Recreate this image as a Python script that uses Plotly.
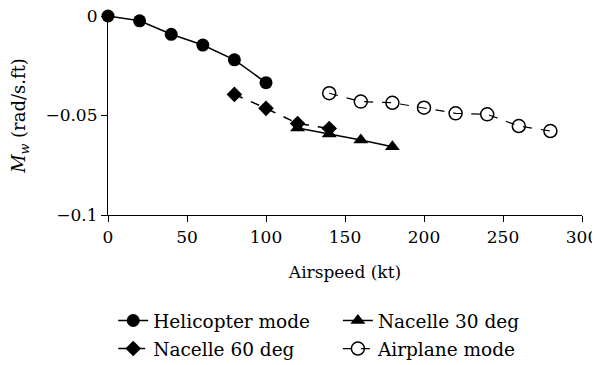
import plotly.graph_objects as go

heli_x = [0, 20, 40, 60, 80, 100]
heli_y = [0.0, -0.0024, -0.0092, -0.0146, -0.022, -0.0335]

n30_x = [120, 140, 160, 180]
n30_y = [-0.0563, -0.0593, -0.0623, -0.0657]

n60_x = [80, 100, 120, 140]
n60_y = [-0.0394, -0.0464, -0.054, -0.0565]

air_x = [140, 160, 180, 200, 220, 240, 260, 280]
air_y = [-0.0388, -0.043, -0.0436, -0.0461, -0.0489, -0.0494, -0.0553, -0.0578]

x_ticks = [0, 50, 100, 150, 200, 250, 300]
y_ticks = [0, -0.05, -0.1]
y_tick_text = ["0", "\u22120.05", "\u22120.1"]

FONT = "DejaVu Serif"
fig = go.Figure()
fig.add_trace(go.Scatter(x=heli_x, y=heli_y, name="Helicopter mode", mode="lines+markers",
                         line=dict(color="black", width=1.5),
                         marker=dict(symbol="circle", size=13, color="black"), cliponaxis=False,
                         legend="legend"))
fig.add_trace(go.Scatter(x=n30_x, y=n30_y, name="Nacelle 30 deg", mode="lines+markers",
                         line=dict(color="black", width=1.5),
                         marker=dict(symbol="triangle-up", size=13, color="black"), cliponaxis=False,
                         legend="legend2"))
fig.add_trace(go.Scatter(x=n60_x, y=n60_y, name="Nacelle 60 deg", mode="lines+markers",
                         line=dict(color="black", width=1.5, dash="dash"),
                         marker=dict(symbol="diamond", size=12, color="black"), cliponaxis=False,
                         legend="legend3"))
fig.add_trace(go.Scatter(x=air_x, y=air_y, name="Airplane mode", mode="lines+markers",
                         line=dict(color="black", width=1.2, dash="dash"),
                         marker=dict(symbol="circle-open", size=13, color="black", line=dict(width=1.5)),
                         cliponaxis=False, legend="legend4"))

leg_common = dict(orientation="h", xanchor="left", yanchor="top", font=dict(family=FONT, size=18.5),
                  bgcolor="rgba(0,0,0,0)")

# page body has an 8px margin; figure is made taller than the window so the
# legends never push the plot margins (the extra empty strip is off-screen)
fig.update_layout(
    width=592, height=380,
    margin=dict(l=100, r=18, t=8, b=173),
    paper_bgcolor="white", plot_bgcolor="white",
    font=dict(family=FONT, size=17, color="black"),
    xaxis=dict(range=[0, 300], tickvals=x_ticks, showgrid=False, zeroline=False,
               showline=True, linecolor="black", linewidth=1.2, automargin=False,
               ticks="outside", ticklen=6, tickcolor="black", ticklabeloverflow="allow",
               tickfont=dict(family=FONT, size=17),
               title=dict(text="Airspeed (kt)", standoff=20, font=dict(family=FONT, size=17))),
    yaxis=dict(range=[-0.1, 0], tickvals=y_ticks, ticktext=y_tick_text, showgrid=False, zeroline=False,
               showline=True, linecolor="black", linewidth=1.2, automargin=False,
               ticks="outside", ticklen=6, tickcolor="black", ticklabeloverflow="allow",
               tickfont=dict(family=FONT, size=17),
               title=dict(text="<i>M</i><sub><i>w</i></sub> (rad/s.ft)", standoff=22,
                          font=dict(family=FONT, size=18))),
    legend=dict(x=0.011, y=-0.437, **leg_common),
    legend2=dict(x=0.485, y=-0.437, **leg_common),
    legend3=dict(x=0.011, y=-0.578, **leg_common),
    legend4=dict(x=0.485, y=-0.578, **leg_common),
    showlegend=True,
)

fig.write_html("out.html")
